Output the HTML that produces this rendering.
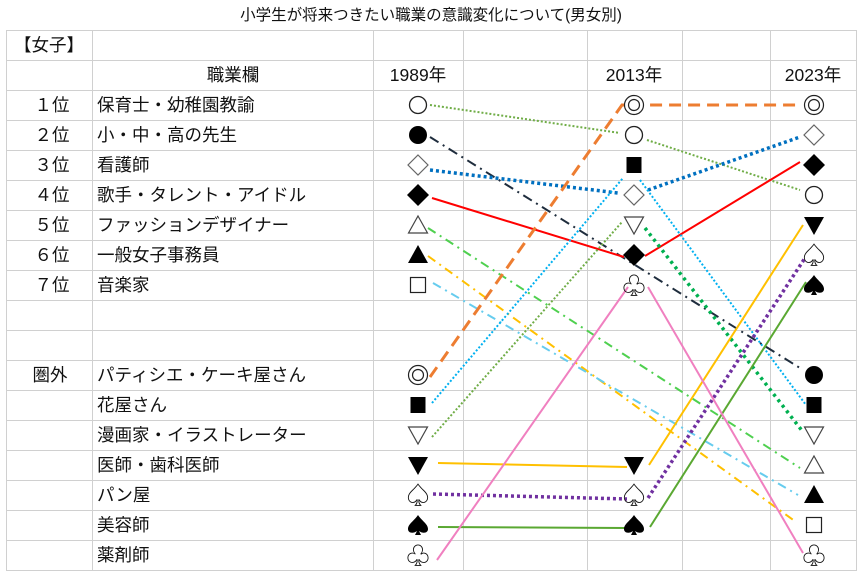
<!DOCTYPE html>
<html><head><meta charset="utf-8"><style>
html,body{margin:0;padding:0;background:#fff;}
svg{display:block;}
text{font-family:"Liberation Sans","Noto Sans CJK JP",sans-serif;fill:#111;}
.j{font-size:17.5px;}
.s{font-size:24px;text-anchor:middle;font-family:"DejaVu Sans",sans-serif;}
</style></head><body>
<svg width="862" height="576" viewBox="0 0 862 576" xmlns="http://www.w3.org/2000/svg">
<defs>
<g id="oc"><circle r="8.5" fill="#fff" stroke="#222" stroke-width="1.3"/></g>
<g id="fc"><circle r="9" fill="#000"/></g>
<g id="dc"><circle r="9.5" fill="#fff" stroke="#222" stroke-width="1.2"/><circle r="5.5" fill="none" stroke="#222" stroke-width="1.2"/></g>
<g id="od"><polygon points="0,-10 10,0 0,10 -10,0" fill="#fff" stroke="#666" stroke-width="1.2"/></g>
<g id="fd"><polygon points="0,-11 11,0 0,11 -11,0" fill="#000"/></g>
<g id="ut"><polygon points="0,-9 9.5,8 -9.5,8" fill="#fff" stroke="#444" stroke-width="1.2"/></g>
<g id="ft"><polygon points="0,-10 10,8 -10,8" fill="#000"/></g>
<g id="dt"><polygon points="-9.5,-8 9.5,-8 0,9" fill="#fff" stroke="#444" stroke-width="1.2"/></g>
<g id="fdt"><polygon points="-10,-8 10,-8 0,10" fill="#000"/></g>
<g id="os"><rect x="-7.5" y="-7.5" width="15" height="15" fill="#fff" stroke="#222" stroke-width="1.2"/></g>
<g id="fs"><rect x="-7.5" y="-8" width="15" height="16" fill="#000"/></g>
<g id="sp"><path d="M0,-10 C-4,-4 -10,-1 -10,4 C-10,8 -5,9 -1,6 L-3,10 L3,10 L1,6 C5,9 10,8 10,4 C10,-1 4,-4 0,-10 Z" fill="#000"/></g>
</defs>
<text x="431" y="20" text-anchor="middle" style="font-size:15.5px">小学生が将来つきたい職業の意識変化について(男女別)</text>
<g stroke="#d0d0d0" stroke-width="1">
<line x1="6" y1="30.5" x2="857" y2="30.5"/><line x1="6" y1="60.5" x2="857" y2="60.5"/><line x1="6" y1="90.5" x2="857" y2="90.5"/><line x1="6" y1="120.5" x2="857" y2="120.5"/><line x1="6" y1="150.5" x2="857" y2="150.5"/><line x1="6" y1="180.5" x2="857" y2="180.5"/><line x1="6" y1="210.5" x2="857" y2="210.5"/><line x1="6" y1="240.5" x2="857" y2="240.5"/><line x1="6" y1="270.5" x2="857" y2="270.5"/><line x1="6" y1="300.5" x2="857" y2="300.5"/><line x1="6" y1="330.5" x2="857" y2="330.5"/><line x1="6" y1="360.5" x2="857" y2="360.5"/><line x1="6" y1="390.5" x2="857" y2="390.5"/><line x1="6" y1="420.5" x2="857" y2="420.5"/><line x1="6" y1="450.5" x2="857" y2="450.5"/><line x1="6" y1="480.5" x2="857" y2="480.5"/><line x1="6" y1="510.5" x2="857" y2="510.5"/><line x1="6" y1="540.5" x2="857" y2="540.5"/><line x1="6" y1="570.5" x2="857" y2="570.5"/>
<line x1="6.5" y1="30" x2="6.5" y2="571"/><line x1="92.5" y1="30" x2="92.5" y2="571"/><line x1="373.5" y1="30" x2="373.5" y2="571"/><line x1="463.5" y1="30" x2="463.5" y2="571"/><line x1="587.5" y1="30" x2="587.5" y2="571"/><line x1="682.5" y1="30" x2="682.5" y2="571"/><line x1="770.5" y1="30" x2="770.5" y2="571"/><line x1="856.5" y1="30" x2="856.5" y2="571"/>
</g>
<g class="j">
<text x="49" y="51" text-anchor="middle">【女子】</text>
<text x="233" y="81" text-anchor="middle">職業欄</text>
<text x="418" y="81" text-anchor="middle">1989年</text>
<text x="634" y="81" text-anchor="middle">2013年</text>
<text x="813" y="81" text-anchor="middle">2023年</text>
<g text-anchor="middle">
<text x="52" y="111">１位</text><text x="52" y="141">２位</text><text x="52" y="171">３位</text><text x="52" y="201">４位</text><text x="52" y="231">５位</text><text x="52" y="261">６位</text><text x="52" y="291">７位</text><text x="50" y="381">圏外</text>
</g>
<text x="97" y="111">保育士・幼稚園教諭</text>
<text x="97" y="141">小・中・高の先生</text>
<text x="97" y="171">看護師</text>
<text x="97" y="201">歌手・タレント・アイドル</text>
<text x="97" y="231">ファッションデザイナー</text>
<text x="97" y="261">一般女子事務員</text>
<text x="97" y="291">音楽家</text>
<text x="97" y="381">パティシエ・ケーキ屋さん</text>
<text x="97" y="411">花屋さん</text>
<text x="97" y="441">漫画家・イラストレーター</text>
<text x="97" y="471">医師・歯科医師</text>
<text x="97" y="501">パン屋</text>
<text x="97" y="531">美容師</text>
<text x="97" y="561">薬剤師</text>
</g>
<g fill="none">
<polyline points="430,105 620,133" stroke="#70ad47" stroke-width="2" stroke-dasharray="2,2"/>
<polyline points="647,140 800,190" stroke="#70ad47" stroke-width="2" stroke-dasharray="2,2"/>
<line x1="430" y1="137" x2="800" y2="368" stroke="#1f2d3d" stroke-width="2" stroke-dasharray="10,5,2,5"/>
<polyline points="430,170 618,193" stroke="#0070c0" stroke-width="3.5" stroke-dasharray="3,3"/>
<polyline points="648,190 800,137" stroke="#0070c0" stroke-width="3.5" stroke-dasharray="3,3"/>
<line x1="432" y1="198" x2="624" y2="257" stroke="#ff0000" stroke-width="2"/>
<line x1="645" y1="256" x2="800" y2="162" stroke="#ff0000" stroke-width="2"/>
<line x1="428" y1="228" x2="800" y2="468" stroke="#4fd04f" stroke-width="2" stroke-dasharray="9,5,2,5"/>
<line x1="428" y1="256" x2="796" y2="522" stroke="#ffc000" stroke-width="2" stroke-dasharray="9,5,2,5"/>
<line x1="433" y1="283" x2="798" y2="495" stroke="#66ccee" stroke-width="2" stroke-dasharray="9,5,2,5"/>
<polyline points="430,377 622,105 800,105" stroke="#ed7d31" stroke-width="3" stroke-dasharray="12,7"/>
<line x1="432" y1="403" x2="623" y2="178" stroke="#00b0f0" stroke-width="2" stroke-dasharray="2,2"/>
<line x1="640" y1="180" x2="806" y2="405" stroke="#00b0f0" stroke-width="2" stroke-dasharray="2,2"/>
<line x1="432" y1="437" x2="622" y2="222" stroke="#70ad47" stroke-width="2" stroke-dasharray="2,2"/>
<line x1="645" y1="228" x2="803" y2="432" stroke="#00b050" stroke-width="3.5" stroke-dasharray="3,4"/>
<polyline points="438,463 627,467" stroke="#ffc000" stroke-width="2"/>
<line x1="649" y1="465" x2="803" y2="225" stroke="#ffc000" stroke-width="2"/>
<polyline points="433,494 627,499" stroke="#7030a0" stroke-width="3.5" stroke-dasharray="3,3"/>
<line x1="648" y1="498" x2="805" y2="258" stroke="#7030a0" stroke-width="3.5" stroke-dasharray="3,3"/>
<polyline points="438,527 627,528" stroke="#5aa832" stroke-width="2"/>
<line x1="650" y1="527" x2="806" y2="282" stroke="#5aa832" stroke-width="2"/>
<line x1="437" y1="560" x2="628" y2="287" stroke="#f080c0" stroke-width="2"/>
<line x1="648" y1="287" x2="803" y2="553" stroke="#f080c0" stroke-width="2"/>
</g>
<use href="#oc" x="418" y="105"/><use href="#fc" x="418" y="135"/><use href="#od" x="418" y="165"/><use href="#fd" x="418" y="195"/><use href="#ut" x="418" y="225"/><use href="#ft" x="418" y="255"/><use href="#os" x="418" y="285"/>
<use href="#dc" x="418" y="375"/><use href="#fs" x="418" y="405"/><use href="#dt" x="418" y="435"/><use href="#fdt" x="418" y="465"/><use href="#sp" x="418" y="525"/>
<use href="#dc" x="634" y="105"/><use href="#oc" x="634" y="135"/><use href="#fs" x="634" y="165"/><use href="#od" x="634" y="195"/><use href="#dt" x="634" y="225"/><use href="#fd" x="634" y="255"/>
<use href="#fdt" x="634" y="465"/><use href="#sp" x="634" y="525"/>
<use href="#dc" x="814" y="105"/><use href="#od" x="814" y="135"/><use href="#fd" x="814" y="165"/><use href="#oc" x="814" y="195"/><use href="#fdt" x="814" y="225"/><use href="#sp" x="814" y="285"/>
<use href="#fc" x="814" y="375"/><use href="#fs" x="814" y="405"/><use href="#dt" x="814" y="435"/><use href="#ut" x="814" y="465"/><use href="#ft" x="814" y="495"/><use href="#os" x="814" y="525"/>
<g class="s">
<text x="418" y="504">♤</text><text x="418" y="564">♧</text>
<text x="634" y="294">♧</text><text x="634" y="504">♤</text>
<text x="814" y="264">♤</text><text x="814" y="564">♧</text>
</g>
</svg>
</body></html>
